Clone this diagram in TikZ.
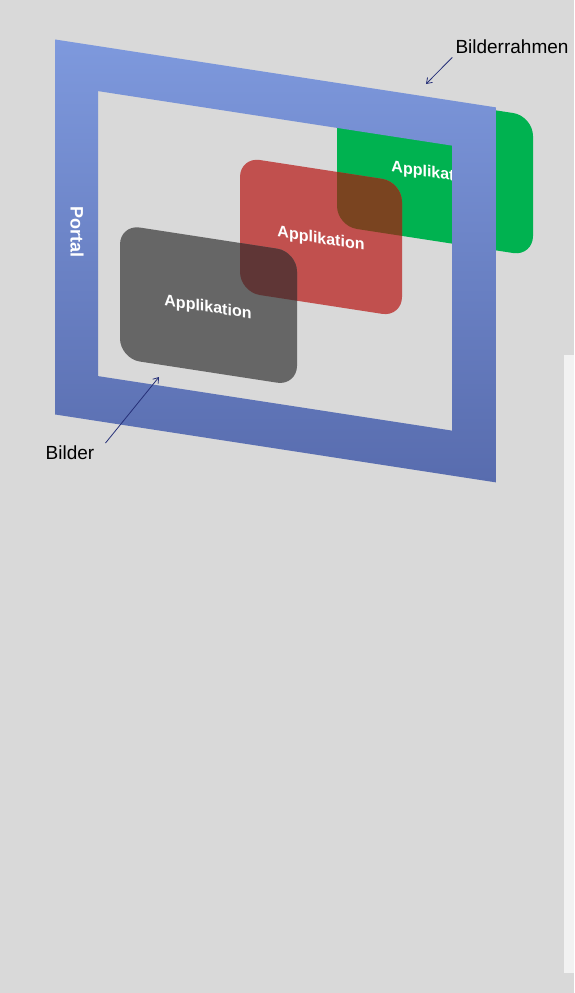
\documentclass[tikz,border=0pt]{standalone}
\usepackage{fontspec}
\setmainfont{Liberation Sans}
\usetikzlibrary{calc,arrows.meta}

\definecolor{bggray}{RGB}{217,217,217}
\definecolor{stripgray}{RGB}{242,242,242}
\definecolor{appgreen}{RGB}{0,178,80}
\definecolor{appred}{RGB}{193,80,78}
\definecolor{appgray}{RGB}{102,102,102}
\definecolor{redgreen}{RGB}{122,68,32}
\definecolor{redgray}{RGB}{95,54,54}
\definecolor{frametop}{RGB}{126,153,221}
\definecolor{framebot}{RGB}{88,108,174}
\definecolor{arrowblue}{RGB}{38,48,120}

\tikzset{
  appbox/.style={rounded corners=20pt},
  apptext/.style={text=white, font=\fontsize{16}{18}\selectfont\bfseries, transform shape},
  lbltext/.style={inner sep=0pt, font=\fontsize{19}{22}\selectfont},
  pointer/.style={draw=arrowblue, line width=0.8pt, -{Straight Barb[length=5pt,width=7pt]}},
}

\begin{document}
\begin{tikzpicture}[x=1pt, y=-1pt]
			%%%%% START %%%%%
			\useasboundingbox (0,0) rectangle (574,993);
			\fill[bggray] (0,0) rectangle (574,993);
			\fill[stripgray] (564,355) rectangle (574,973);
			
			\begin{scope}[yslant=-0.154]
				% the three applications
				\fill[appgreen, appbox] (337,34) rectangle (533,174);
				\fill[appred, appbox] (240,120) rectangle (402,255);
				\fill[appgray, appbox] (120,206) rectangle (297,340);
				
				% overlaps
				\begin{scope}
					\clip[appbox] (337,34) rectangle (533,174);
					\fill[redgreen, appbox] (240,120) rectangle (402,255);
				\end{scope}
				\begin{scope}
					\clip[appbox] (240,120) rectangle (402,255);
					\fill[redgray, appbox] (120,206) rectangle (297,340);
				\end{scope}
				
				\node[apptext] (appG) at (435,107) {Applikation};
				\node[apptext] (appR) at (321,190) {Applikation};
				\node[apptext] (appB) at (208,276) {Applikation};
				
				% portal frame
				\shade[top color=frametop, bottom color=framebot, even odd rule]
					(55,31) rectangle (496,406) (98,76) rectangle (452,361);
			\end{scope}
			
			\node[text=white, font=\fontsize{18}{20}\selectfont\bfseries, rotate=-90] (portal) at (77,232) {Portal};
			
			\node[lbltext, anchor=base] (rahmen) at (512,53) {Bilderrahmen};
			\node[lbltext, anchor=base] (bilder) at (70,459) {Bilder};
			
			\coordinate (rahmenTip) at (426,84);
			\coordinate (bilderTip) at (159,377);
			\draw[pointer] ($(rahmen.south west)+(-3,4)$) -- (rahmenTip);
			\draw[pointer] ($(bilder.north east)+(11,-2)$) -- (bilderTip);
			%%%%% END %%%%%
\end{tikzpicture}
\end{document}
